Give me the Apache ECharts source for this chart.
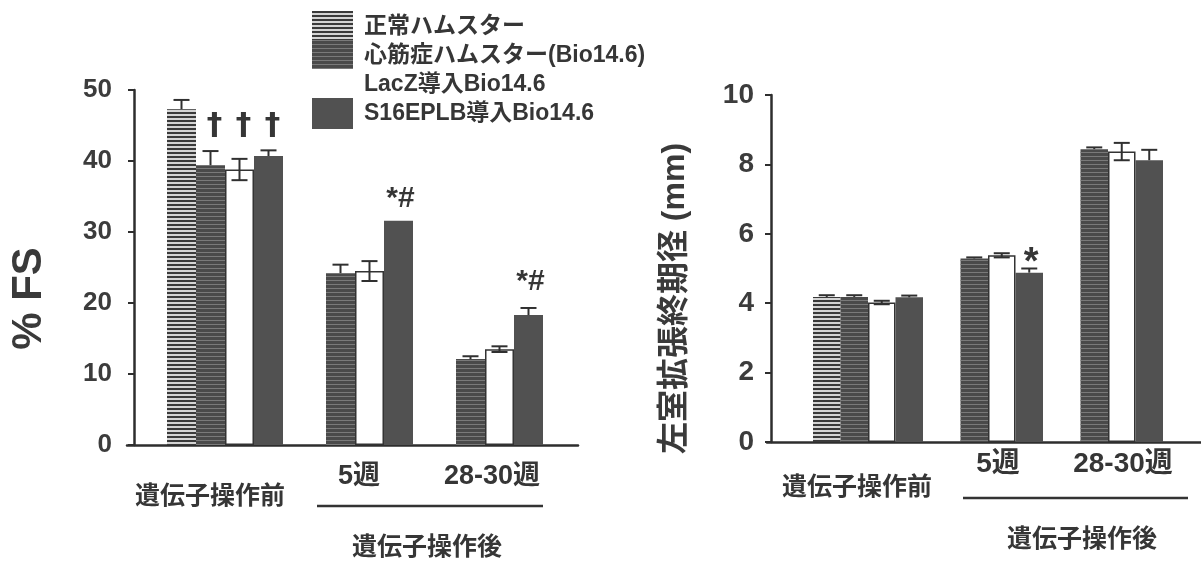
<!DOCTYPE html>
<html>
<head>
<meta charset="utf-8">
<script src="https://cdn.jsdelivr.net/npm/echarts@6/dist/echarts.min.js"></script>
<style>
  html, body { margin: 0; padding: 0; background: #ffffff; }
  #chart { width: 1201px; height: 562px; }
</style>
</head>
<body>
<div id="chart"></div>
<script>
// Groups along the x axis
const categories = ['遺伝子操作前', '5週', '28-30週'];
const groupNames = ['正常ハムスター', '心筋症ハムスター(Bio14.6)', 'LacZ導入Bio14.6', 'S16EPLB導入Bio14.6'];

// Fractional shortening (%FS), mean and error
const fsNormal = [47.3, null, null];
const fsBio = [39.4, 24.2, 12.1];
const fsLacZ = [38.8, 24.5, 13.5];
const fsS16 = [40.7, 31.6, 18.3];
const fsNormalErr = [1.3, 0, 0];
const fsBioErr = [2.0, 1.2, 0.4];
const fsLacZErr = [1.5, 1.4, 0.4];
const fsS16Err = [0.8, 0, 1.0];

// Left ventricular end-diastolic diameter (mm), mean and error
const lvNormal = [4.18, null, null];
const lvBio = [4.18, 5.29, 8.44];
const lvLacZ = [4.02, 5.38, 8.37];
const lvS16 = [4.17, 4.88, 8.12];
const lvNormalErr = [0.05, 0, 0];
const lvBioErr = [0.05, 0.03, 0.05];
const lvLacZErr = [0.05, 0.06, 0.25];
const lvS16Err = [0.05, 0.12, 0.3];

// Significance marks above bars
const fsBioMarks = ['†', '', ''];
const fsLacZMarks = ['†', '', ''];
const fsS16Marks = ['†', '*#', '*#'];
const lvS16Marks = ['', '*', ''];

// Y axis ticks
const fsTicks = { min: 0, max: 50, interval: 10 };
const lvTicks = { min: 0, max: 10, interval: 2 };

const FONT = "'Liberation Sans', 'Noto Sans CJK JP', sans-serif";
const INK = '#363636';

// Bar fills: horizontal scan-line stripes for the two hamster groups
const fills = [
  { color: '#d4d4d4', decal: { symbol: 'rect', symbolSize: 1, dashArrayX: [1, 0], dashArrayY: [1.6, 1.4], rotation: 0, color: '#3a3a3a' } },
  { color: '#4a4a4a', decal: { symbol: 'rect', symbolSize: 1, dashArrayX: [1, 0], dashArrayY: [1, 2.2], rotation: 0, color: '#7a7a7a' } },
  { color: '#ffffff', borderColor: '#333333', borderWidth: 1.5 },
  { color: '#515151' }
];
// Only the open bars show the lower half of their error bar
const showLowerErr = [false, false, true, false];

// Label distances above the bar tops (px), per chart / series / group
const markStyle = {
  fs: { 1: [24, 0, 0], 2: [28, 0, 0], 3: [15, 7, 18] },
  lv: { 3: [0, -10, 0] }
};

function markLabel(text, dist, size) {
  const dagger = text === '†';
  return {
    show: true, position: 'top', formatter: text, distance: dist,
    fontSize: dagger ? 31 : size,
    fontFamily: dagger ? "'DejaVu Sans', sans-serif" : FONT,
    fontWeight: 'bold', color: INK,
    offset: dagger ? [4, 0] : [2, 0]
  };
}

function barData(values, marks, dist, size) {
  return values.map((v, i) => {
    if (marks && marks[i]) {
      return { value: v, label: markLabel(marks[i], dist ? dist[i] : 6, size) };
    }
    return v;
  });
}

function errData(values, errs) {
  const out = [];
  values.forEach((v, i) => { if (v != null && errs[i] > 0) out.push([i, v, errs[i]]); });
  return out;
}

function errorSeries(name, xi, yi, slot, barW, values, errs) {
  return {
    type: 'custom', name: name, xAxisIndex: xi, yAxisIndex: yi, z: 5,
    encode: { x: 0, y: 1 },
    data: errData(values, errs),
    renderItem: function (params, api) {
      const cat = api.value(0), v = api.value(1), e = api.value(2);
      const c = api.coord([cat, v]);
      const x = c[0] + (slot - 1.5) * barW;
      const top = api.coord([cat, v + e])[1];
      const bot = showLowerErr[slot] ? api.coord([cat, v - e])[1] : c[1];
      const half = 8;
      const st = { stroke: '#303030', lineWidth: 2 };
      const kids = [
        { type: 'line', shape: { x1: x, y1: top, x2: x, y2: bot }, style: st },
        { type: 'line', shape: { x1: x - half, y1: top, x2: x + half, y2: top }, style: st }
      ];
      if (showLowerErr[slot]) {
        kids.push({ type: 'line', shape: { x1: x - half, y1: bot, x2: x + half, y2: bot }, style: st });
      }
      return { type: 'group', children: kids };
    }
  };
}

function barSeries(name, xi, yi, slot, barW, data) {
  return {
    type: 'bar', name: name, xAxisIndex: xi, yAxisIndex: yi,
    barWidth: barW, barGap: '0%',
    itemStyle: fills[slot],
    data: data
  };
}

const LEFT_BW = 29;
const RIGHT_BW = 27.5;

const fsValues = [fsNormal, fsBio, fsLacZ, fsS16];
const fsErrs = [fsNormalErr, fsBioErr, fsLacZErr, fsS16Err];
const fsMarks = [null, fsBioMarks, fsLacZMarks, fsS16Marks];
const lvValues = [lvNormal, lvBio, lvLacZ, lvS16];
const lvErrs = [lvNormalErr, lvBioErr, lvLacZErr, lvS16Err];
const lvMarks = [null, null, null, lvS16Marks];

const series = [];
groupNames.forEach((n, s) => {
  series.push(barSeries(n, 0, 0, s, LEFT_BW, barData(fsValues[s], fsMarks[s], markStyle.fs[s], 30)));
});
groupNames.forEach((n, s) => {
  series.push(barSeries(n, 2, 2, s, RIGHT_BW, barData(lvValues[s], lvMarks[s], markStyle.lv[s], 38)));
});
groupNames.forEach((n, s) => {
  series.push(errorSeries(n, 0, 0, s, LEFT_BW, fsValues[s], fsErrs[s]));
  series.push(errorSeries(n, 2, 2, s, RIGHT_BW, lvValues[s], lvErrs[s]));
});

function categoryLabel(margin, size, rich) {
  return {
    margin: margin, interval: 0,
    formatter: (v, i) => '{c' + i + '|' + v + '}',
    rich: rich,
    color: INK, fontFamily: FONT, fontWeight: 'bold', fontSize: size
  };
}

function valueAxis(grid, ticks, offset, labelSize, labelMargin, name, nameSize, nameGap, namePad) {
  return {
    gridIndex: grid, type: 'value', min: ticks.min, max: ticks.max, interval: ticks.interval,
    offset: offset,
    axisLine: { show: true, onZero: false, lineStyle: { color: '#2e2e2e', width: 2.5 } },
    axisTick: { show: true, inside: false, length: 6, lineStyle: { color: '#2e2e2e', width: 2 } },
    axisLabel: { margin: labelMargin, color: '#3c3c3c', fontFamily: FONT, fontWeight: 'bold', fontSize: labelSize },
    splitLine: { show: false },
    name: name, nameLocation: 'middle', nameRotate: 90, nameGap: nameGap,
    nameTextStyle: { fontFamily: FONT, fontWeight: 'bold', fontSize: nameSize, color: '#3a3a3a', padding: namePad }
  };
}

function baseline(grid) {
  return {
    gridIndex: grid, type: 'value', min: 0, max: 1,
    axisLine: { show: true, onZero: false, lineStyle: { color: '#2e2e2e', width: 2.5 } },
    axisTick: { show: false }, axisLabel: { show: false }, splitLine: { show: false }
  };
}

const option = {
  backgroundColor: '#ffffff',
  animation: false,
  legend: {
    orient: 'vertical', left: 307, top: 6,
    itemWidth: 41, itemHeight: 31, itemGap: -2,
    icon: 'rect',
    textStyle: { fontFamily: FONT, fontWeight: 'bold', fontSize: 23, color: INK, padding: [0, 0, 0, 6] },
    data: [
      { name: groupNames[0] },
      { name: groupNames[1] },
      { name: groupNames[2], itemStyle: { borderWidth: 0, color: '#ffffff' } },
      { name: groupNames[3] }
    ]
  },
  grid: [
    { left: 160, width: 390, top: 90, height: 355 },
    { left: 127, width: 451, top: 90, height: 355 },
    { left: 808, width: 360, top: 95, height: 347 },
    { left: 767, width: 434, top: 95, height: 347 }
  ],
  xAxis: [
    {
      gridIndex: 0, type: 'category', data: categories,
      axisLine: { show: false }, axisTick: { show: false },
      axisLabel: categoryLabel(18, 27, {
        c0: { fontSize: 25, padding: [22, 30, 0, 0] },
        c1: { fontSize: 27, padding: [0, 0, 0, 8] },
        c2: { fontSize: 27, padding: [0, 0, 0, 14] }
      })
    },
    baseline(1),
    {
      gridIndex: 2, type: 'category', data: categories,
      axisLine: { show: false }, axisTick: { show: false },
      axisLabel: categoryLabel(8, 28, {
        c0: { fontSize: 25, padding: [26, 22, 0, 0] },
        c1: { fontSize: 28, padding: [0, 0, 0, 20] },
        c2: { fontSize: 28, padding: [0, 0, 0, 30] }
      })
    },
    baseline(3)
  ],
  yAxis: [
    valueAxis(0, fsTicks, 26, 26, 22, '% FS', 42, 84, [0, 62, 0, 0]),
    { gridIndex: 1, type: 'value', show: false },
    valueAxis(2, lvTicks, 37, 28, 17, '左室拡張終期径 (mm)', 32, 80, [0, 60, 0, 0]),
    { gridIndex: 3, type: 'value', show: false }
  ],
  graphic: [
    { type: 'line', shape: { x1: 317, y1: 506, x2: 543, y2: 506 }, style: { stroke: '#333', lineWidth: 2.5 } },
    { type: 'text', style: { text: '遺伝子操作後', x: 427, y: 545, align: 'center', verticalAlign: 'middle', font: "bold 25px 'Noto Sans CJK JP'", fill: INK } },
    { type: 'line', shape: { x1: 963, y1: 498, x2: 1188, y2: 498 }, style: { stroke: '#333', lineWidth: 2.5 } },
    { type: 'text', style: { text: '遺伝子操作後', x: 1082, y: 537, align: 'center', verticalAlign: 'middle', font: "bold 25px 'Noto Sans CJK JP'", fill: INK } }
  ],
  series: series
};

const chart = echarts.init(document.getElementById('chart'), null, { renderer: 'canvas' });
chart.setOption(option);
</script>
</body>
</html>
